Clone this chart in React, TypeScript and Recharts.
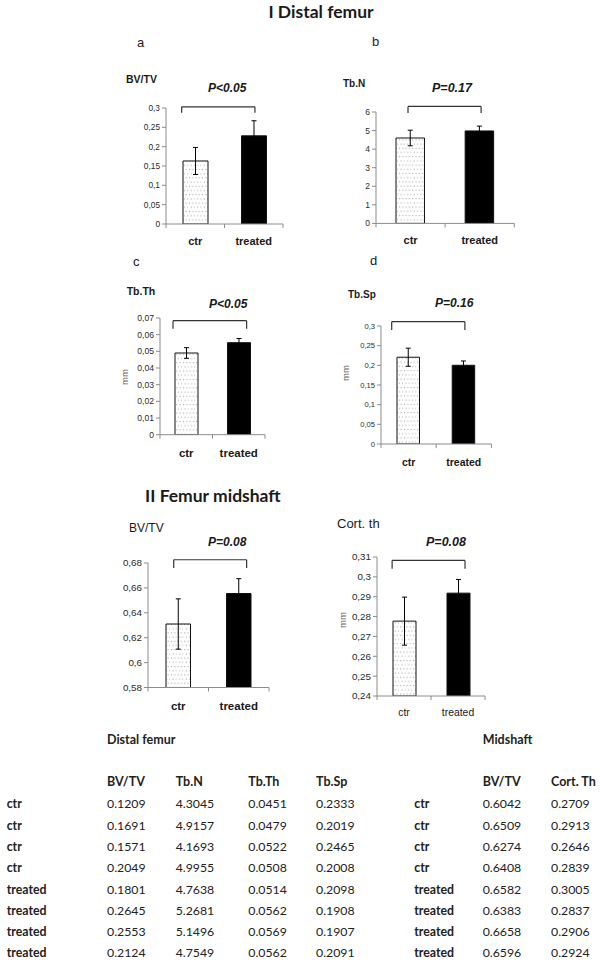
import React from 'react';
import { BarChart, Bar, XAxis, YAxis, Cell, ErrorBar, ReferenceLine } from 'recharts';

// ---------- chart data (group means and SD) ----------
const categories = ['ctr', 'treated'];
const categoryPos = [0.5, 1.5];

const bvtvDistalMean = [0.163, 0.228];
const bvtvDistalSd = [0.035, 0.039];
const tbNMean = [4.6, 4.98];
const tbNSd = [0.42, 0.26];
const tbThMean = [0.049, 0.0552];
const tbThSd = [0.0032, 0.0025];
const tbSpMean = [0.2206, 0.2001];
const tbSpSd = [0.023, 0.011];
const bvtvMidMean = [0.631, 0.6555];
const bvtvMidSd = [0.0202, 0.0119];
const cortThMean = [0.2777, 0.2918];
const cortThSd = [0.0121, 0.0069];

const ticksBvtvDistal = [0, 0.05, 0.1, 0.15, 0.2, 0.25, 0.3];
const ticksTbN = [0, 1, 2, 3, 4, 5, 6];
const ticksTbTh = [0, 0.01, 0.02, 0.03, 0.04, 0.05, 0.06, 0.07];
const ticksTbSp = [0, 0.05, 0.1, 0.15, 0.2, 0.25, 0.3];
const ticksBvtvMid = [0.58, 0.6, 0.62, 0.64, 0.66, 0.68];
const ticksCortTh = [0.24, 0.25, 0.26, 0.27, 0.28, 0.29, 0.3, 0.31];
const xTicks = [0, 0.5, 1, 1.5, 2];

// ---------- table data ----------
const tableGroups = ['ctr', 'ctr', 'ctr', 'ctr', 'treated', 'treated', 'treated', 'treated'];
const distalHeaders = ['BV/TV', 'Tb.N', 'Tb.Th', 'Tb.Sp'];
const distalBvtv = ['0.1209', '0.1691', '0.1571', '0.2049', '0.1801', '0.2645', '0.2553', '0.2124'];
const distalTbN = ['4.3045', '4.9157', '4.1693', '4.9955', '4.7638', '5.2681', '5.1496', '4.7549'];
const distalTbTh = ['0.0451', '0.0479', '0.0522', '0.0508', '0.0514', '0.0562', '0.0569', '0.0562'];
const distalTbSp = ['0.2333', '0.2019', '0.2465', '0.2008', '0.2098', '0.1908', '0.1907', '0.2091'];
const midHeaders = ['BV/TV', 'Cort. Th'];
const midBvtv = ['0.6042', '0.6509', '0.6274', '0.6408', '0.6582', '0.6383', '0.6658', '0.6596'];
const midCortTh = ['0.2709', '0.2913', '0.2646', '0.2839', '0.3005', '0.2837', '0.2906', '0.2924'];

const ARIAL = '"Liberation Sans", Arial, sans-serif';
const CAL = 'Lato, "Open Sans", sans-serif';
const AX = '#8c8c8c';

const fmt = (v: number) => String(Math.round(v * 10000) / 10000).replace('.', ',');

type Bracket = { x1: number; x2: number; top: number; leg: number };
type PanelProps = {
  mean: number[];
  sd: number[];
  domain: [number, number];
  ticks: number[];
  left: number;
  right: number;
  top: number;
  bottom: number;
  tickFont: number;
  catFont: number;
  catBold: boolean;
  catMargin: number;
  barSize: number;
  bracket: Bracket;
};

function makeTick(font: number, bold: boolean, margin: number) {
  return (props: any) => {
    const { x, y, payload } = props;
    const v = payload.value as number;
    if (Number.isInteger(v)) {
      return <line x1={x} y1={y} x2={x} y2={y + 4} stroke={AX} strokeWidth={1} />;
    }
    const idx = Math.floor(v);
    return (
      <text
        x={x}
        y={y + margin}
        dy="0.71em"
        textAnchor="middle"
        fontSize={font}
        fontWeight={bold ? 700 : 400}
        fill="#1a1a1a"
        fontFamily={ARIAL}
      >
        {categories[idx]}
      </text>
    );
  };
}

function Panel(p: PanelProps) {
  const YW = 44;
  const MT = 24;
  const MR = 12;
  const XH = 32;
  const plotW = p.right - p.left;
  const plotH = p.bottom - p.top;
  const rows = categories.map((c, i) => ({ name: c, x: categoryPos[i], v: p.mean[i], e: p.sd[i] }));
  const b = p.bracket;
  return (
    <div style={{ position: 'absolute', left: p.left - YW, top: p.top - MT }}>
      <BarChart
        width={YW + plotW + MR}
        height={MT + plotH + XH}
        data={rows}
        margin={{ top: MT, right: MR, left: 0, bottom: 0 }}
        barSize={p.barSize}
      >
        <XAxis
          dataKey="x"
          type="number"
          domain={[0, 2]}
          allowDataOverflow
          ticks={xTicks}
          interval={0}
          height={XH}
          axisLine={{ stroke: AX }}
          tickLine={false}
          tickSize={0}
          tickMargin={0}
          tick={makeTick(p.catFont, p.catBold, p.catMargin)}
        />
        <YAxis
          width={YW}
          domain={p.domain}
          ticks={p.ticks}
          interval={0}
          allowDataOverflow
          axisLine={{ stroke: AX }}
          tickLine={{ stroke: AX }}
          tickSize={4}
          tickMargin={2}
          tickFormatter={fmt}
          tick={{ fontSize: p.tickFont, fill: '#2a2a2a', fontFamily: ARIAL }}
        />
        <Bar dataKey="v" isAnimationActive={false} stroke="#111" strokeWidth={1}>
          {rows.map((r, i) => (
            <Cell key={r.name} fill={i === 0 ? 'url(#ctrDots)' : '#000'} />
          ))}
          <ErrorBar dataKey="e" width={2.5} stroke="#000" strokeWidth={1} direction="y" />
        </Bar>
        <ReferenceLine
          ifOverflow="visible"
          stroke="#333"
          strokeWidth={1.2}
          segment={[
            { x: b.x1, y: b.top },
            { x: b.x2, y: b.top },
          ]}
        />
        <ReferenceLine
          ifOverflow="visible"
          stroke="#333"
          strokeWidth={1.2}
          segment={[
            { x: b.x1, y: b.top },
            { x: b.x1, y: b.leg },
          ]}
        />
        <ReferenceLine
          ifOverflow="visible"
          stroke="#333"
          strokeWidth={1.2}
          segment={[
            { x: b.x2, y: b.top },
            { x: b.x2, y: b.leg },
          ]}
        />
      </BarChart>
    </div>
  );
}

type TP = {
  x: number;
  y: number;
  size: number;
  weight?: number;
  italic?: boolean;
  family?: string;
  color?: string;
  center?: boolean;
  rotate?: boolean;
  children: React.ReactNode;
};
function T({ x, y, size, weight = 400, italic = false, family = ARIAL, color = '#1a1a1a', center = false, rotate = false, children }: TP) {
  const tf = rotate
    ? 'translate(-50%,-50%) rotate(-90deg)'
    : center
    ? 'translate(-50%,-50%)'
    : 'translateY(-50%)';
  return (
    <div
      style={{
        position: 'absolute',
        left: x,
        top: y,
        transform: tf,
        fontSize: size,
        fontWeight: weight,
        fontStyle: italic ? 'italic' : 'normal',
        fontFamily: family,
        color,
        lineHeight: 1,
        whiteSpace: 'nowrap',
      }}
    >
      {children}
    </div>
  );
}

const ROW0 = 804.3;
const ROWSTEP = 21.3;

export default function App() {
  const distalCols = [distalBvtv, distalTbN, distalTbTh, distalTbSp];
  const distalX = [107, 175.7, 248.3, 316];
  const midCols = [midBvtv, midCortTh];
  const midX = [482.7, 551];
  return (
    <div style={{ position: 'absolute', left: 0, top: 0, width: 600, height: 965, background: '#fff', overflow: 'hidden' }}>
      <svg width={0} height={0} style={{ position: 'absolute' }}>
        <defs>
          <pattern id="ctrDots" width={6.6} height={8.4} patternUnits="userSpaceOnUse">
            <rect width={6.6} height={8.4} fill="#fff" />
            <rect x={1} y={1} width={1} height={1} fill="#9a9a9a" />
            <rect x={4.3} y={1} width={1} height={1} fill="#9a9a9a" />
            <rect x={2.6} y={5.2} width={1} height={1} fill="#9a9a9a" />
            <rect x={5.9} y={5.2} width={1} height={1} fill="#9a9a9a" />
          </pattern>
        </defs>
      </svg>

      <T x={321} y={12} size={17.5} weight={700} family={CAL} center>I Distal femur</T>
      <T x={137} y={42} size={13}>a</T>
      <T x={372} y={41} size={13}>b</T>
      <T x={133} y={261} size={13}>c</T>
      <T x={370} y={260} size={13}>d</T>

      {/* a */}
      <T x={126} y={78.5} size={10.5} weight={700}>BV/TV</T>
      <T x={208} y={88.3} size={12} weight={700} italic>P&lt;0.05</T>
      <Panel mean={bvtvDistalMean} sd={bvtvDistalSd} domain={[0, 0.3]} ticks={ticksBvtvDistal}
        left={166} right={283} top={108.3} bottom={224.3} tickFont={8.3} catFont={11} catBold catMargin={13.5} barSize={25}
        bracket={{ x1: 0.268, x2: 1.52, top: 0.303, leg: 0.288 }} />

      {/* b */}
      <T x={343} y={84} size={10} weight={700}>Tb.N</T>
      <T x={432} y={88.3} size={12.5} weight={700} italic>P=0.17</T>
      <Panel mean={tbNMean} sd={tbNSd} domain={[0, 6]} ticks={ticksTbN}
        left={375.7} right={514} top={112.3} bottom={223.7} tickFont={8.5} catFont={11} catBold catMargin={13} barSize={28.5}
        bracket={{ x1: 0.463, x2: 1.52, top: 6.3, leg: 5.95 }} />

      {/* c */}
      <T x={126.7} y={290.8} size={10.5} weight={700}>Tb.Th</T>
      <T x={209} y={304.2} size={12} weight={700} italic>P&lt;0.05</T>
      <T x={125} y={376.7} size={9.5} color="#6e6060" rotate>mm</T>
      <Panel mean={tbThMean} sd={tbThSd} domain={[0, 0.07]} ticks={ticksTbTh}
        left={160} right={265} top={318.3} bottom={435} tickFont={8.6} catFont={11.5} catBold catMargin={14.2} barSize={23}
        bracket={{ x1: 0.248, x2: 1.65, top: 0.0684, leg: 0.0636 }} />

      {/* d */}
      <T x={348} y={295} size={10} weight={700}>Tb.Sp</T>
      <T x={435} y={303.3} size={12} weight={700} italic>P=0.16</T>
      <T x={345.7} y={373} size={9.5} color="#6e6060" rotate>mm</T>
      <Panel mean={tbSpMean} sd={tbSpSd} domain={[0, 0.3]} ticks={ticksTbSp}
        left={381} right={491.4} top={326} bottom={444} tickFont={7.6} catFont={10.5} catBold catMargin={15} barSize={22.5}
        bracket={{ x1: 0.194, x2: 1.52, top: 0.311, leg: 0.29 }} />

      <T x={145} y={496} size={17.5} weight={700} family={CAL}>II Femur midshaft</T>

      {/* e */}
      <T x={129} y={528.3} size={12}>BV/TV</T>
      <T x={208} y={541.7} size={12} weight={700} italic>P=0.08</T>
      <Panel mean={bvtvMidMean} sd={bvtvMidSd} domain={[0.58, 0.68]} ticks={ticksBvtvMid}
        left={148.3} right={269.3} top={563.3} bottom={687.8} tickFont={9.8} catFont={11.5} catBold catMargin={13.9} barSize={24.5}
        bracket={{ x1: 0.425, x2: 1.63, top: 0.6826, leg: 0.676 }} />

      {/* f */}
      <T x={337} y={523.3} size={13}>Cort. th</T>
      <T x={426} y={541.5} size={12.5} weight={700} italic>P=0.08</T>
      <T x={343} y={620} size={9.5} color="#6e6060" rotate>mm</T>
      <Panel mean={cortThMean} sd={cortThSd} domain={[0.24, 0.31]} ticks={ticksCortTh}
        left={376.7} right={484.7} top={556.7} bottom={695.7} tickFont={9.8} catFont={10.4} catBold={false} catMargin={12.3} barSize={23}
        bracket={{ x1: 0.28, x2: 1.63, top: 0.3083, leg: 0.3041 }} />

      {/* tables */}
      <T x={107} y={740} size={12.5} weight={700} family={CAL} color="#222">Distal femur</T>
      <T x={482.7} y={740} size={12.5} weight={700} family={CAL} color="#222">Midshaft</T>
      {distalHeaders.map((h, i) => (
        <T key={'dh' + h} x={distalX[i]} y={782.3} size={12.5} weight={700} family={CAL} color="#222">{h}</T>
      ))}
      {midHeaders.map((h, i) => (
        <T key={'mh' + h} x={midX[i]} y={782.3} size={12.5} weight={700} family={CAL} color="#222">{h}</T>
      ))}
      {tableGroups.map((g, r) => (
        <React.Fragment key={'row' + r}>
          <T x={6.7} y={ROW0 + r * ROWSTEP} size={12.3} weight={700} family={CAL} color="#222">{g}</T>
          {distalCols.map((col, c) => (
            <T key={'dc' + c} x={distalX[c]} y={ROW0 + r * ROWSTEP} size={12.3} family={CAL} color="#222">{col[r]}</T>
          ))}
          <T x={414.3} y={ROW0 + r * ROWSTEP} size={12.3} weight={700} family={CAL} color="#222">{g}</T>
          {midCols.map((col, c) => (
            <T key={'mc' + c} x={midX[c]} y={ROW0 + r * ROWSTEP} size={12.3} family={CAL} color="#222">{col[r]}</T>
          ))}
        </React.Fragment>
      ))}
    </div>
  );
}
